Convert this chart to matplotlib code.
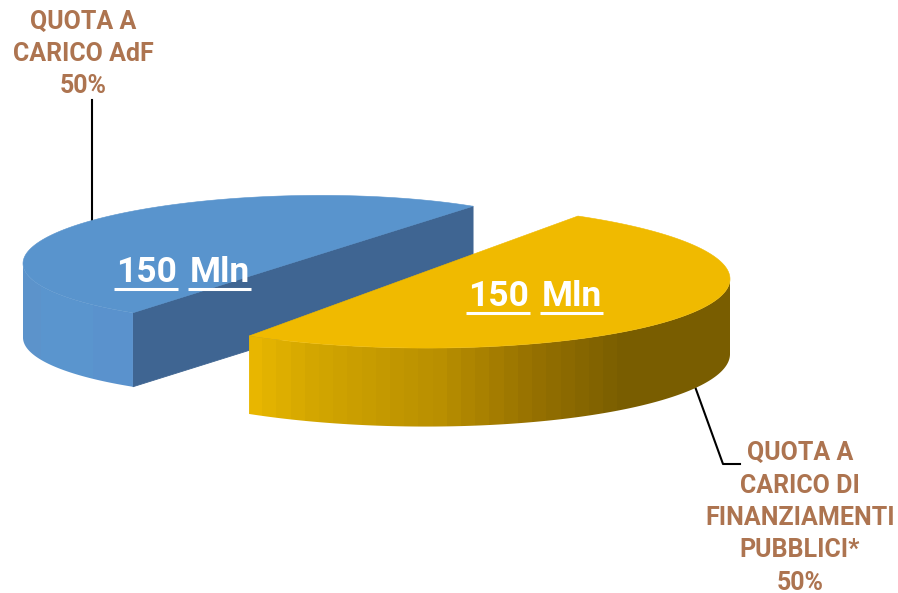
import numpy as np
import matplotlib
matplotlib.use('Agg')
import matplotlib.pyplot as plt
from matplotlib.colors import to_rgb
from matplotlib.patches import Polygon

# slice data
amounts = [150, 150]
amount_labels = ['150 Mln', '150 Mln']
slice_names = ['QUOTA A\nCARICO AdF', 'QUOTA A\nCARICO DI\nFINANZIAMENTI\nPUBBLICI*']

# how each exploded slice sits on the page
centres = [(303, 259.5), (413.5, 276)]
radii = [(280, 64), (316.5, 72)]
skews = [4, -3]
depths = [74, 75]
bulges = [0, 3.5]
start_angles = [52.6, 238.7]

top_colours = ['#5994CD', '#F0BA00']
face_colour = '#3F6592'
label_colour = '#AD7450'
label_font = 'Roboto'

# wall shading, as (x position, colour)
wall_stops = [
    [(23, '#5C93CB'), (40, '#5C93CB'), (41, '#5A95CE'), (92, '#5A95CE'), (94, '#5A92CD'), (135, '#5A93CD')],
    [(250, '#EAB800'), (310, '#D4A700'), (440, '#B98F00'), (540, '#946F00'), (625, '#795D00'), (730, '#795D00')],
]
wall_columns = [60, 34]


def rim(i, t):
    t = np.radians(t)
    cx, cy = centres[i]
    a, b = radii[i]
    return cx + a * np.cos(t), cy - b * np.sin(t) - skews[i] * np.cos(t)


def draw_wall(ax, i, t0, t1):
    # banded shading clipped to the outline of the wall
    ts = np.linspace(t0, t1, 200)
    x, y = rim(i, ts)
    low = y + depths[i] - bulges[i] * np.sin(np.radians(ts))
    outline = np.vstack([np.column_stack([x, y]), np.column_stack([x, low])[::-1]])

    xs = np.array([s[0] for s in wall_stops[i]])
    rgb = np.array([to_rgb(s[1]) for s in wall_stops[i]])
    edges = np.linspace(x.min() - 1, x.max() + 1, wall_columns[i] + 1)
    mids = (edges[:-1] + edges[1:]) / 2
    bands = np.stack([np.interp(mids, xs, rgb[:, k]) for k in range(3)], axis=1)[np.newaxis]
    im = ax.imshow(bands, extent=(edges[0], edges[-1], low.max() + 1, y.min() - 1),
                   aspect='auto', interpolation='nearest', zorder=2 + 2 * i)
    clip = Polygon(outline, transform=ax.transData, facecolor='none', edgecolor='none')
    ax.add_patch(clip)
    im.set_clip_path(clip)


def underlined(ax, x, y, text):
    # matplotlib has no underline, so each word gets its own rule
    renderer = ax.figure.canvas.get_renderer()
    for word in text.split():
        t = ax.text(x, y, word, color='white', fontsize=25.5, fontweight='bold',
                    family=label_font, ha='left', va='baseline', zorder=6)
        box = t.get_window_extent(renderer).transformed(ax.transData.inverted())
        ax.plot([box.x0 - 2, box.x1 + 1], [y + 7, y + 7], color='white', lw=2.2,
                solid_capstyle='butt', zorder=6)
        x = box.x1 + 13


fig = plt.figure(figsize=(8.98, 5.93), dpi=100)
ax = fig.add_axes([0, 0, 1, 1])

total = sum(amounts)
sweeps = [360 * v / total for v in amounts]

# blue slice with its cut face, then the yellow one in front
t0, t1 = start_angles[0], start_angles[0] + sweeps[0]
xa, ya = rim(0, t0)
xb, yb = rim(0, t1)
d = depths[0]
ax.add_patch(Polygon([(xa, ya), (xb, yb), (xb, yb + d), (xa, ya + d)], facecolor=face_colour,
                     edgecolor=face_colour, lw=0.6, zorder=1))
draw_wall(ax, 0, 180, t1)
ts = np.linspace(t0, t1, 200)
ax.add_patch(Polygon(np.column_stack(rim(0, ts)), facecolor=top_colours[0],
                     edgecolor=top_colours[0], lw=0.4, zorder=3))

t0, t1 = start_angles[1], start_angles[1] + sweeps[1]
draw_wall(ax, 1, t0, 360)
ts = np.linspace(t0, t1, 300)
ax.add_patch(Polygon(np.column_stack(rim(1, ts)), facecolor=top_colours[1],
                     edgecolor=top_colours[1], lw=0.4, zorder=5))

ax.set_xlim(0, 898)
ax.set_ylim(593, 0)
ax.axis('off')

underlined(ax, 116, 282, amount_labels[0])
underlined(ax, 468, 306, amount_labels[1])

# leader lines run from the rims out to the labels
x, y = rim(0, 139)
ax.plot([x, x], [y + 2, 100], color='black', lw=1.5, zorder=0)
x, y = rim(1, -27.2)
ax.plot([x, 723, 740], [y + depths[1], 464, 464], color='black', lw=1.5, zorder=0)

shares = ['{:.0%}'.format(v / total) for v in amounts]
for name, share, pos in zip(slice_names, shares, [(83, 54), (800, 518)]):
    ax.text(pos[0], pos[1], name + '\n' + share, color=label_colour, fontsize=18,
            fontweight='bold', family=label_font, ha='center', va='center',
            multialignment='center', linespacing=1.44)

fig.savefig('out.png', dpi=100)
